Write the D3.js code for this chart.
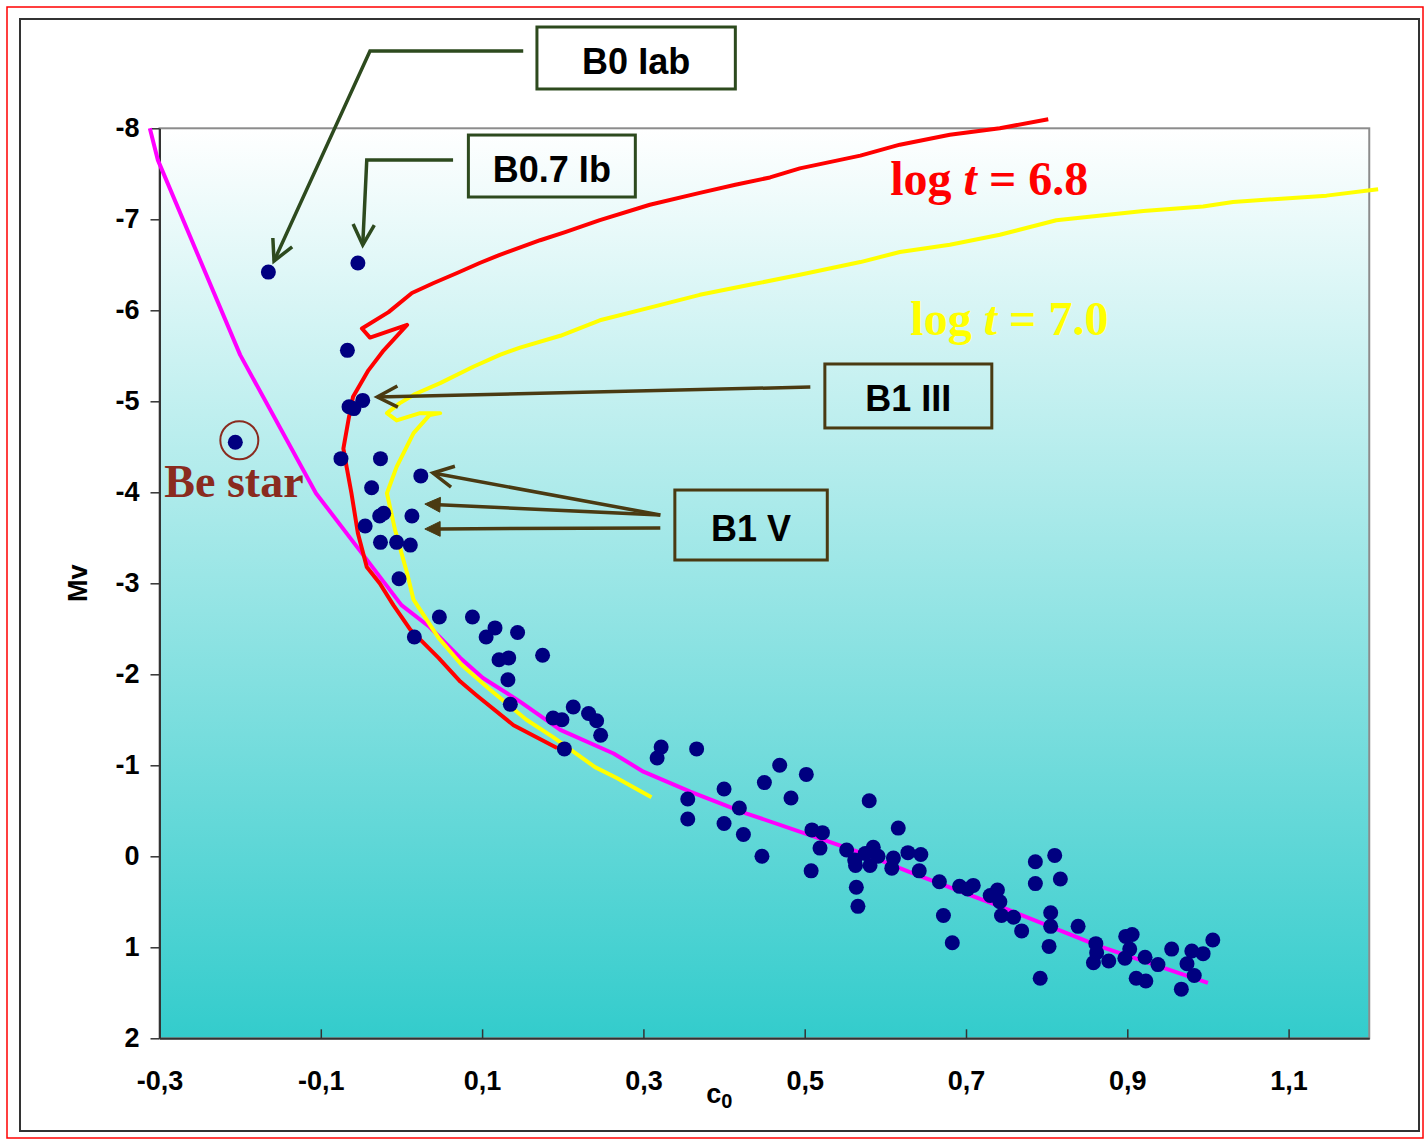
<!DOCTYPE html>
<html>
<head>
<meta charset="utf-8">
<script src="https://cdn.jsdelivr.net/npm/d3@7"></script>
<style>
  body { margin: 0; background: #ffffff; }
  svg { display: block; }
</style>
</head>
<body>
<svg id="chart" width="1424" height="1140"></svg>
<script>
// ---- Photometric data: c0 index vs absolute magnitude Mv ----
const starC0 = [-0.165, -0.054, -0.206, -0.067, -0.048, -0.065, -0.059, -0.075, -0.026, 0.024,
  -0.037, -0.027, -0.022, 0.013, -0.045, -0.026, -0.006, 0.011, -0.003, 0.047,
  0.088, 0.016, 0.116, 0.105, 0.144, 0.175, 0.121, 0.133, 0.132, 0.135,
  0.213, 0.188, 0.199, 0.232, 0.242, 0.247, 0.202, 0.322, 0.317, 0.366,
  0.469, 0.502, 0.450, 0.400, 0.483, 0.355, 0.419, 0.580, 0.355, 0.400,
  0.424, 0.509, 0.522, 0.616, 0.519, 0.447, 0.552, 0.585, 0.575, 0.591,
  0.562, 0.563, 0.581, 0.610, 0.608, 0.628, 0.644, 0.642, 0.508, 0.564,
  0.566, 0.667, 0.692, 0.702, 0.709, 0.672, 0.683, 0.730, 0.739, 0.742,
  0.744, 0.759, 0.769, 0.786, 0.810, 0.786, 0.817, 0.805, 0.805, 0.803,
  0.792, 0.839, 0.861, 0.862, 0.858, 0.877, 0.898, 0.906, 0.903, 0.897,
  0.922, 0.911, 0.923, 0.938, 0.955, 0.980, 0.994, 0.974, 0.983, 0.967, 1.006];
const starMv = [-6.42, -6.52, -4.55, -5.56, -5.01, -4.94, -4.92, -4.37, -4.37, -4.18,
  -4.05, -3.74, -3.77, -3.74, -3.63, -3.45, -3.45, -3.42, -3.05, -2.63,
  -2.63, -2.41, -2.51, -2.41, -2.46, -2.21, -2.16, -2.18, -1.94, -1.67,
  -1.64, -1.52, -1.50, -1.57, -1.49, -1.33, -1.18, -1.20, -1.08, -1.18,
  -1.00, -0.90, -0.81, -0.74, -0.64, -0.63, -0.53, -0.61, -0.41, -0.36,
  -0.24, -0.29, -0.26, -0.31, -0.09, 0.00, -0.07, -0.10, -0.03, 0.00,
  0.04, 0.10, 0.10, 0.02, 0.13, -0.04, -0.02, 0.16, 0.16, 0.34,
  0.55, 0.28, 0.33, 0.36, 0.32, 0.65, 0.95, 0.43, 0.37, 0.50,
  0.65, 0.67, 0.82, 0.06, -0.01, 0.30, 0.25, 0.62, 0.77, 0.99,
  1.34, 0.77, 0.96, 1.06, 1.17, 1.15, 0.88, 0.86, 1.02, 1.12,
  1.11, 1.34, 1.37, 1.19, 1.02, 1.04, 1.07, 1.18, 1.31, 1.46, 0.92];

// Index of the emission-line (Be) star in the arrays above
const beStarIndex = 2;

// Zero-age main sequence
const zamsC0 = [-0.312, -0.302, -0.200, -0.106, -0.043, 0.000, 0.035, 0.073, 0.101, 0.147,
  0.197, 0.263, 0.300, 0.358, 0.428, 0.511, 0.573, 0.635, 0.742, 0.866, 1.000];
const zamsMv = [-8.00, -7.65, -5.51, -3.99, -3.26, -2.76, -2.52, -2.18, -1.96, -1.70,
  -1.39, -1.13, -0.93, -0.71, -0.47, -0.22, -0.03, 0.19, 0.55, 0.99, 1.39];

// Isochrone log t = 6.8
const iso68C0 = [0.193, 0.139, 0.093, 0.073, 0.046, 0.011, -0.010, -0.027, -0.043, -0.054,
  -0.062, -0.068, -0.072, -0.065, -0.060, -0.041, -0.022, 0.007, -0.039, -0.049,
  -0.016, 0.013, 0.040, 0.069, 0.097, 0.122, 0.172, 0.203, 0.246, 0.308,
  0.370, 0.414, 0.457, 0.494, 0.569, 0.618, 0.680, 0.742, 0.802];
const iso68Mv = [-1.19, -1.44, -1.77, -1.92, -2.18, -2.49, -2.76, -3.00, -3.18, -3.55,
  -3.99, -4.28, -4.48, -4.83, -5.05, -5.34, -5.56, -5.84, -5.70, -5.80,
  -5.98, -6.19, -6.30, -6.41, -6.52, -6.61, -6.77, -6.86, -6.99, -7.16,
  -7.29, -7.38, -7.46, -7.56, -7.70, -7.82, -7.93, -8.00, -8.10];

// Isochrone log t = 7.0
const iso70C0 = [0.310, 0.267, 0.240, 0.188, 0.155, 0.110, 0.075, 0.046, 0.015, 0.007,
  -0.008, -0.018, -0.006, 0.015, 0.035, 0.048, 0.023, -0.006, -0.018, -0.002,
  0.017, 0.048, 0.089, 0.122, 0.147, 0.197, 0.246, 0.308, 0.370, 0.432,
  0.494, 0.569, 0.618, 0.680, 0.742, 0.812, 0.920, 0.994, 1.031, 1.147, 1.211];
const iso70Mv = [-0.65, -0.86, -0.98, -1.31, -1.50, -1.83, -2.10, -2.40, -2.82, -3.11,
  -3.59, -3.99, -4.28, -4.65, -4.85, -4.87, -4.87, -4.79, -4.87, -4.98,
  -5.08, -5.20, -5.38, -5.51, -5.59, -5.72, -5.89, -6.03, -6.17, -6.28,
  -6.39, -6.53, -6.64, -6.72, -6.83, -6.99, -7.09, -7.14, -7.19, -7.26, -7.33];

// Axis ticks
const xTicks = [-0.3, -0.1, 0.1, 0.3, 0.5, 0.7, 0.9, 1.1];
const yTicks = [-8, -7, -6, -5, -4, -3, -2, -1, 0, 1, 2];

// ---- Chart ----
const svg = d3.select("#chart");
const x = d3.scaleLinear().domain([-0.3, 1.2]).range([159.5, 1369.25]);
const y = d3.scaleLinear().domain([-8, 2]).range([128.3, 1038.3]);

const GREEN = "#2d4a1e";
const BROWN = "#4a3a12";
const SANS = "'Liberation Sans', Arial, sans-serif";
const SERIF = "'Liberation Serif', 'Times New Roman', serif";

// Gradient for the plot area
const grad = svg.append("defs").append("linearGradient")
  .attr("id", "plotFill").attr("x1", 0).attr("y1", 0).attr("x2", 0).attr("y2", 1);
grad.append("stop").attr("offset", "0%").attr("stop-color", "#ffffff");
grad.append("stop").attr("offset", "100%").attr("stop-color", "#33cccc");

// Outer frames
svg.append("rect").attr("x", 7).attr("y", 7).attr("width", 1416).attr("height", 1131)
  .attr("fill", "none").attr("stroke", "#ff0000").attr("stroke-width", 1.5);
svg.append("rect").attr("x", 20).attr("y", 19).attr("width", 1399).attr("height", 1112)
  .attr("fill", "#ffffff").attr("stroke", "#333333").attr("stroke-width", 2);

// Plot area
const [x0, x1] = x.range();
const [y0, y1] = y.range();
svg.append("rect").attr("x", x0).attr("y", y0).attr("width", x1 - x0).attr("height", y1 - y0)
  .attr("fill", "url(#plotFill)").attr("stroke", "#8c8c8c").attr("stroke-width", 2);

// Axes
const fmtX = d => (d < 0 ? "-" : "") + Math.abs(d).toFixed(1).replace(".", ",");
const fmtY = d => (d < 0 ? "-" : "") + Math.abs(d);

const gx = svg.append("g").attr("transform", `translate(0,${y1})`)
  .call(d3.axisBottom(x).tickValues(xTicks).tickFormat(fmtX)
    .tickSizeInner(-9).tickSizeOuter(0).tickPadding(33));
const gy = svg.append("g").attr("transform", `translate(${x0},0)`)
  .call(d3.axisLeft(y).tickValues(yTicks).tickFormat(fmtY)
    .tickSizeInner(9).tickSizeOuter(0).tickPadding(11));

[gx, gy].forEach(g => {
  g.attr("font-family", SANS).attr("font-size", 27).attr("font-weight", "bold");
  g.select(".domain").attr("stroke", "#333333").attr("stroke-width", 2);
  g.selectAll(".tick line").attr("stroke", "#333333").attr("stroke-width", 1.5);
  g.selectAll(".tick text").attr("fill", "#000000");
});

// Axis titles
const xt = svg.append("text").attr("x", x(0.378)).attr("y", 1103)
  .attr("font-family", SANS).attr("font-weight", "bold").attr("font-size", 27).attr("fill", "#000");
xt.append("tspan").text("c");
xt.append("tspan").attr("font-size", 20).attr("dy", 5).text("0");

svg.append("text")
  .attr("transform", `translate(87,${y(-3.0)}) rotate(-90)`)
  .attr("text-anchor", "middle")
  .attr("font-family", SANS).attr("font-weight", "bold").attr("font-size", 27).attr("fill", "#000")
  .text("Mv");

// Curves
const line = d3.line().x(d => x(d[0])).y(d => y(d[1]));
const curves = [
  { c0: zamsC0, mv: zamsMv, color: "#ff00ff", width: 4 },
  { c0: iso68C0, mv: iso68Mv, color: "#ff0000", width: 4 },
  { c0: iso70C0, mv: iso70Mv, color: "#ffff00", width: 4 }
];
curves.forEach(c => {
  svg.append("path")
    .datum(d3.zip(c.c0, c.mv))
    .attr("d", line)
    .attr("fill", "none")
    .attr("stroke", c.color)
    .attr("stroke-width", c.width)
    .attr("stroke-linejoin", "round");
});

// Stars
svg.append("g").selectAll("circle")
  .data(d3.zip(starC0, starMv))
  .join("circle")
  .attr("cx", d => x(d[0]))
  .attr("cy", d => y(d[1]))
  .attr("r", 7.5)
  .attr("fill", "#000080");

// Be star marker and label
svg.append("circle")
  .attr("cx", x(starC0[beStarIndex]) + 4).attr("cy", y(starMv[beStarIndex]) - 2)
  .attr("r", 19).attr("fill", "none").attr("stroke", "#8a2b1f").attr("stroke-width", 2);
svg.append("text").attr("x", x(-0.294)).attr("y", y(-3.948))
  .attr("font-family", SERIF).attr("font-weight", "bold").attr("font-size", 46)
  .attr("fill", "#8a2b1f").text("Be star");

// Isochrone labels
function isoLabel(c0, mv, age, color) {
  const t = svg.append("text").attr("x", x(c0)).attr("y", y(mv))
    .attr("font-family", SERIF).attr("font-weight", "bold").attr("font-size", 48)
    .attr("fill", color);
  t.append("tspan").text("log ");
  t.append("tspan").attr("font-style", "italic").text("t");
  t.append("tspan").text(" = " + age);
}
isoLabel(0.606, -7.267, "6.8", "#ff0000");
isoLabel(0.631, -5.729, "7.0", "#ffff00");

// Spectral-type callouts
function arrowHead(tip, from, len, half, filled, color) {
  const ang = Math.atan2(from[1] - tip[1], from[0] - tip[0]);
  const a1 = [tip[0] + len * Math.cos(ang + half), tip[1] + len * Math.sin(ang + half)];
  const a2 = [tip[0] + len * Math.cos(ang - half), tip[1] + len * Math.sin(ang - half)];
  if (filled) {
    svg.append("path").attr("d", `M${a1}L${tip}L${a2}Z`).attr("fill", color).attr("stroke", color)
      .attr("stroke-width", 1).attr("stroke-linejoin", "miter");
  } else {
    svg.append("path").attr("d", `M${a1}L${tip}L${a2}`).attr("fill", "none").attr("stroke", color)
      .attr("stroke-width", 3.5).attr("stroke-linejoin", "miter");
  }
}

const callouts = [
  { label: "B0 Iab", color: GREEN, box: [0.168, 0.414, -9.113, -8.432],
    arrows: [{ pts: [[0.151, -8.849], [-0.039, -8.849], [-0.158, -6.542]], filled: false }] },
  { label: "B0.7 Ib", color: GREEN, box: [0.083, 0.290, -7.926, -7.245],
    arrows: [{ pts: [[0.064, -7.652], [-0.043, -7.652], [-0.048, -6.718]], filled: false }] },
  { label: "B1 III", color: BROWN, box: [0.525, 0.732, -5.410, -4.707],
    arrows: [{ pts: [[0.507, -5.157], [-0.030, -5.047]], filled: false }] },
  { label: "B1 V", color: BROWN, box: [0.339, 0.528, -4.025, -3.256],
    arrows: [
      { pts: [[0.321, -3.751], [0.039, -4.212]], filled: false },
      { pts: [[0.321, -3.751], [0.029, -3.871]], filled: true },
      { pts: [[0.321, -3.608], [0.029, -3.597]], filled: true }
    ] }
];

callouts.forEach(c => {
  const bx0 = x(c.box[0]), bx1 = x(c.box[1]), by0 = y(c.box[2]), by1 = y(c.box[3]);
  svg.append("rect").attr("x", bx0).attr("y", by0).attr("width", bx1 - bx0).attr("height", by1 - by0)
    .attr("fill", c.box[2] < -8.5 ? "#ffffff" : "none")
    .attr("stroke", c.color).attr("stroke-width", 3);
  svg.append("text").attr("x", (bx0 + bx1) / 2).attr("y", (by0 + by1) / 2 + 3)
    .attr("text-anchor", "middle").attr("dominant-baseline", "central")
    .attr("font-family", SANS).attr("font-weight", "bold").attr("font-size", 36)
    .attr("fill", "#000000").text(c.label);
  c.arrows.forEach(a => {
    const p = a.pts.map(d => [x(d[0]), y(d[1])]);
    const tip = p[p.length - 1], prev = p[p.length - 2];
    let shaft = p.slice();
    if (a.filled) {
      const ang = Math.atan2(prev[1] - tip[1], prev[0] - tip[0]);
      shaft[shaft.length - 1] = [tip[0] + 14 * Math.cos(ang), tip[1] + 14 * Math.sin(ang)];
    }
    svg.append("path").attr("d", d3.line()(shaft)).attr("fill", "none")
      .attr("stroke", c.color).attr("stroke-width", 3.5).attr("stroke-linejoin", "miter");
    arrowHead(tip, prev, a.filled ? 17 : 23, a.filled ? 0.45 : 0.48, a.filled, c.color);
  });
});
</script>
</body>
</html>
